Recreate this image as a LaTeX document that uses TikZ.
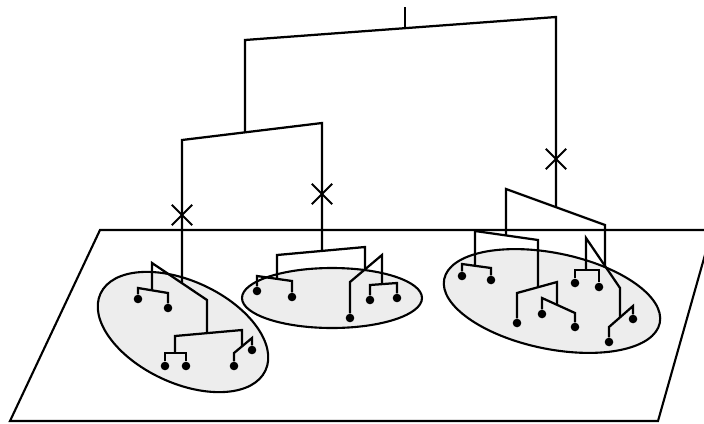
\documentclass[tikz,border=0pt]{standalone}
\usetikzlibrary{shapes.misc}

\begin{document}
\begin{tikzpicture}[
  % --- global style ---
  x=0.025cm, y=-0.025cm,
  branch/.style={line width=1.6pt},
  plane/.style={line width=1.5pt},
  cluster/.style={draw, line width=1.5pt, fill=black!7},
  leaf/.style={circle, fill=black, inner sep=0pt, minimum size=0.215cm},
  cut/.style={draw, cross out, line width=1.4pt, inner sep=0pt, minimum size=0.46cm},
]

\useasboundingbox (0,0) rectangle (704,423);

% ====== Ground plane ======
\begin{scope}
  \clip (0,0) rectangle (704,423);
  \draw[plane] (100,230) -- (712,230) -- (658,421) -- (10,421) -- cycle;
\end{scope}

% ====== Clusters ======
\draw[cluster, rotate around={-25:(183,332)}] (183,332) ellipse [x radius=91, y radius=51];
\draw[cluster] (332,298) ellipse [x radius=90, y radius=30];
\draw[cluster, rotate around={-11.5:(552,301)}] (552,301) ellipse [x radius=110, y radius=48];

% ====== Upper tree ======
\coordinate (root)    at (405,7);
\coordinate (rootbar) at (405,28);
\coordinate (aL)      at (245,40);
\coordinate (aR)      at (556,17);
\coordinate (aLd)     at (245,132);
\coordinate (aRd)     at (556,207);
\coordinate (bL)      at (182,140);
\coordinate (bR)      at (322,123);
\coordinate (bLd)     at (182,283);
\coordinate (bRd)     at (322,251);

\draw[branch] (root) -- (rootbar);
\draw[branch] (aLd) -- (aL) -- (aR) -- (aRd);
\draw[branch] (bLd) -- (bL) -- (bR) -- (bRd);

% cut marks
\node[cut] (cutW) at (182,215) {};
\node[cut] (cutM) at (322,194) {};
\node[cut] (cutE) at (556,159) {};

% ====== Left cluster ======
\coordinate (c1)  at (152,263);
\coordinate (c2)  at (207,300);
\coordinate (c1d) at (152,290);
\coordinate (c2d) at (207,333);
\coordinate (d1)  at (138,288);
\coordinate (d2)  at (168,293);
\coordinate (e1)  at (175,336);
\coordinate (e2)  at (242,330);
\coordinate (e1d) at (175,353);
\coordinate (e2d) at (242,346);
\coordinate (f1)  at (165,353);
\coordinate (f2)  at (186,353);
\coordinate (g1)  at (234,353);
\coordinate (g2)  at (252,338);

\node[leaf] (w1) at (138,299) {};
\node[leaf] (w2) at (168,308) {};
\node[leaf] (w3) at (165,366) {};
\node[leaf] (w4) at (186,366) {};
\node[leaf] (w5) at (234,366) {};
\node[leaf] (w6) at (252,350) {};

\draw[branch] (c1d) -- (c1) -- (c2) -- (c2d);
\draw[branch] (w1) -- (d1) -- (d2) -- (w2);
\draw[branch] (e1d) -- (e1) -- (e2) -- (e2d);
\draw[branch] (w3) -- (f1) -- (f2) -- (w4);
\draw[branch] (w5) -- (g1) -- (g2) -- (w6);

% ====== Middle cluster ======
\coordinate (h1)  at (277,255);
\coordinate (h2)  at (365,247);
\coordinate (h1d) at (277,279);
\coordinate (h2d) at (365,269);
\coordinate (i1)  at (257,276);
\coordinate (i2)  at (292,281);
\coordinate (j1)  at (350,282);
\coordinate (j2)  at (382,255);
\coordinate (j2d) at (382,284);
\coordinate (k1)  at (370,285);
\coordinate (k2)  at (397,283);

\node[leaf] (m1) at (257,291) {};
\node[leaf] (m2) at (292,297) {};
\node[leaf] (m3) at (350,318) {};
\node[leaf] (m4) at (370,300) {};
\node[leaf] (m5) at (397,298) {};

\draw[branch] (h1d) -- (h1) -- (h2) -- (h2d);
\draw[branch] (m1) -- (i1) -- (i2) -- (m2);
\draw[branch] (m3) -- (j1) -- (j2) -- (j2d);
\draw[branch] (m4) -- (k1) -- (k2) -- (m5);

% ====== Right cluster ======
\coordinate (n1)  at (506,189);
\coordinate (n2)  at (605,225);
\coordinate (n1d) at (506,235);
\coordinate (n2d) at (605,266);
\coordinate (o1)  at (475,231);
\coordinate (o2)  at (538,240);
\coordinate (o1d) at (475,266);
\coordinate (o2d) at (538,287);
\coordinate (p1)  at (462,264);
\coordinate (p2)  at (491,268);
\coordinate (q1)  at (517,293);
\coordinate (q2)  at (557,282);
\coordinate (q2d) at (557,305);
\coordinate (s1)  at (542,298);
\coordinate (s2)  at (575,313);
\coordinate (t1)  at (586,238);
\coordinate (t2)  at (620,288);
\coordinate (t1d) at (586,270);
\coordinate (t2d) at (620,317);
\coordinate (u1)  at (575,270);
\coordinate (u2)  at (599,270);
\coordinate (v1)  at (609,327);
\coordinate (v2)  at (633,306);

\node[leaf] (r1) at (462,276) {};
\node[leaf] (r2) at (491,280) {};
\node[leaf] (r3) at (517,323) {};
\node[leaf] (r4) at (542,314) {};
\node[leaf] (r5) at (575,327) {};
\node[leaf] (r6) at (575,283) {};
\node[leaf] (r7) at (599,287) {};
\node[leaf] (r8) at (609,342) {};
\node[leaf] (r9) at (633,319) {};

\draw[branch] (n1d) -- (n1) -- (n2) -- (n2d);
\draw[branch] (o1d) -- (o1) -- (o2) -- (o2d);
\draw[branch] (r1) -- (p1) -- (p2) -- (r2);
\draw[branch] (r3) -- (q1) -- (q2) -- (q2d);
\draw[branch] (r4) -- (s1) -- (s2) -- (r5);
\draw[branch] (t1d) -- (t1) -- (t2) -- (t2d);
\draw[branch] (r6) -- (u1) -- (u2) -- (r7);
\draw[branch] (r8) -- (v1) -- (v2) -- (r9);

\end{tikzpicture}
\end{document}
